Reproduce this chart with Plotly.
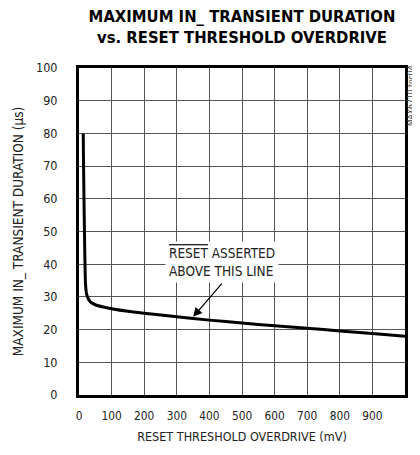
import plotly.graph_objects as go

overdrive_mv = [13, 14, 16, 18, 20, 23, 28, 35, 50, 75, 100, 150, 200, 300, 400, 500, 600, 700, 800, 900, 1000]
duration_us = [80, 70, 55, 42, 34, 31, 29.5, 28.5, 27.6, 26.9, 26.4, 25.6, 25.0, 23.9, 22.9, 22.0, 21.2, 20.4, 19.6, 18.8, 18.0]

x_ticks = [0, 100, 200, 300, 400, 500, 600, 700, 800, 900, 1000]
x_tick_labels = ["0", "100", "200", "300", "400", "500", "600", "700", "800", "900", "1000\u00a0\u00a0"]
y_ticks = [0, 10, 20, 30, 40, 50, 60, 70, 80, 90, 100]

FONT = "DejaVu Sans Condensed"
W, H = 412, 447  # page body has an 8px default margin

fig = go.Figure()
fig.add_trace(go.Scatter(x=overdrive_mv, y=duration_us, mode="lines",
                         line=dict(color="black", width=3, shape="spline", smoothing=0.6),
                         showlegend=False, hoverinfo="skip"))

fig.update_layout(
    width=W, height=H,
    margin=dict(l=71, r=15, t=60, b=60),
    paper_bgcolor="white", plot_bgcolor="white",
    font=dict(family=FONT, size=12.5, color="#222"),
    title=dict(text="<b>MAXIMUM IN_ TRANSIENT DURATION<br>vs. RESET THRESHOLD OVERDRIVE</b>",
               x=234 / W, xref="container", xanchor="center", y=1 - 14 / H, yref="container",
               yanchor="middle",
               font=dict(family=FONT, size=16.5, color="black")),
)
fig.update_xaxes(range=[0, 1000], tickvals=x_ticks, ticktext=x_tick_labels,
                 showgrid=True, gridcolor="#555", gridwidth=1,
                 zeroline=False, showline=True, linecolor="black", linewidth=3, mirror=True,
                 ticks="", ticklabelstandoff=8, automargin=False, tickfont=dict(size=11.8),
                 title=dict(text="RESET THRESHOLD OVERDRIVE (mV)", standoff=11, font=dict(size=12.5)))
fig.update_yaxes(range=[0, 100], tickvals=y_ticks, showgrid=True, gridcolor="#555", gridwidth=1,
                 zeroline=False, showline=True, linecolor="black", linewidth=3, mirror=True,
                 ticks="", ticklabelstandoff=16, automargin=False,
                 title=dict(text="MAXIMUM IN_ TRANSIENT DURATION (µs)", standoff=10, font=dict(size=13.5)))

fig.add_annotation(x=439, y=40.7, xref="x", yref="y",
                   text='<span style="text-decoration:overline">RESET</span> ASSERTED<br>ABOVE THIS LINE',
                   showarrow=False, bgcolor="white", font=dict(size=13.5, color="#222"),
                   align="left", borderpad=3)
fig.add_annotation(x=350, y=23.9, ax=442, ay=34.5, xref="x", yref="y", axref="x", ayref="y",
                   text="", showarrow=True, arrowhead=2, arrowsize=1.4, arrowwidth=1.3, arrowcolor="black")

fig.add_annotation(x=1.018, y=0.917, xref="paper", yref="paper",
                   text="MAX6710 toc04", textangle=-90, showarrow=False,
                   font=dict(size=8.5, color="#444"), xanchor="center", yanchor="middle")

fig.write_html("out.html")
